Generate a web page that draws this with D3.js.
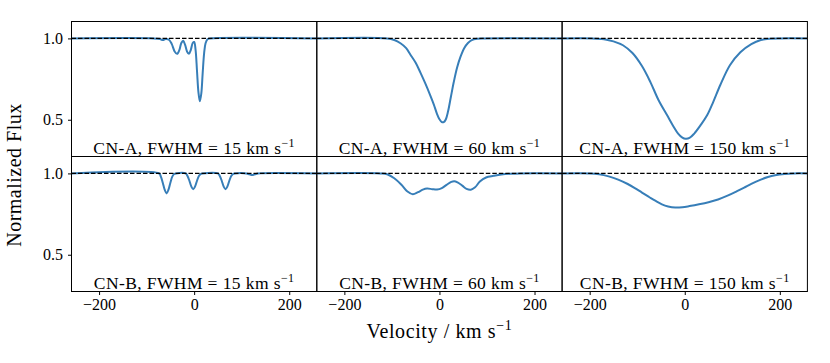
<!DOCTYPE html>
<html>
<head>
<meta charset="utf-8">
<script src="https://cdn.jsdelivr.net/npm/d3@7"></script>
<style>
  body { margin: 0; background: #fff; }
  text { font-family: "Liberation Serif", "DejaVu Serif", serif; fill: #000; }
</style>
</head>
<body>
<svg id="chart" width="830" height="363"></svg>
<script>
// [velocity km/s, normalized flux]
var cnA15 = [[-258,1],[-85,1],[-72,0.996],[-66,0.99],[-60,0.996],[-53,0.992],[-47,0.965],[-41,0.92],[-36,0.905],[-31,0.93],[-27,0.972],[-23,0.985],[-19,0.96],[-15,0.92],[-11,0.905],[-7,0.93],[-3,0.972],[0,0.978],[3,0.93],[6,0.8],[9,0.67],[12,0.613],[15,0.66],[18,0.79],[21,0.91],[24,0.97],[28,0.995],[33,1],[258,1]];
var cnA60 = [[-258,1],[-110,1],[-95,0.99],[-82,0.97],[-70,0.94],[-61,0.9],[-50,0.85],[-40,0.79],[-30,0.725],[-20,0.655],[-12,0.595],[-5,0.535],[0,0.503],[5,0.486],[9,0.485],[13,0.5],[18,0.55],[24,0.64],[30,0.73],[37,0.82],[44,0.885],[52,0.94],[60,0.972],[68,0.99],[80,0.998],[95,1],[258,1]];
var cnA150 = [[-258,1],[-195,1],[-170,0.995],[-150,0.982],[-130,0.958],[-110,0.91],[-90,0.83],[-72,0.73],[-55,0.62],[-37,0.527],[-25,0.465],[-14,0.415],[-5,0.39],[2,0.383],[10,0.388],[20,0.415],[33,0.465],[47,0.527],[60,0.61],[75,0.715],[95,0.835],[117,0.915],[140,0.965],[160,0.99],[180,0.998],[200,1],[258,1]];
var cnB15 = [[-258,1],[-74,1],[-70,0.98],[-66,0.943],[-62,0.9],[-58,0.877],[-54,0.9],[-50,0.943],[-46,0.98],[-42,0.996],[-38,1],[-18,1],[-14,0.984],[-10,0.955],[-6,0.92],[-2,0.903],[2,0.92],[6,0.955],[10,0.984],[14,0.997],[18,1],[50,1],[54,0.984],[58,0.955],[62,0.92],[66,0.903],[70,0.92],[74,0.955],[78,0.984],[82,0.997],[86,1],[110,1],[116,0.995],[122,0.99],[128,0.995],[134,1],[258,1]];
var cnB60 = [[-258,1],[-125,1],[-110,0.995],[-95,0.97],[-80,0.93],[-68,0.89],[-56,0.872],[-45,0.885],[-35,0.9],[-26,0.907],[-15,0.903],[-5,0.901],[5,0.91],[15,0.93],[25,0.948],[31,0.952],[38,0.945],[48,0.925],[57,0.905],[66,0.9],[75,0.915],[85,0.95],[98,0.975],[114,0.985],[130,0.993],[150,0.998],[170,1],[258,1]];
var cnB150 = [[-258,1],[-200,1],[-180,0.995],[-160,0.982],[-140,0.962],[-120,0.935],[-105,0.91],[-90,0.882],[-75,0.855],[-62,0.832],[-48,0.81],[-35,0.797],[-20,0.79],[-5,0.792],[10,0.799],[30,0.81],[50,0.823],[70,0.84],[90,0.863],[110,0.891],[125,0.913],[140,0.936],[160,0.962],[175,0.978],[190,0.989],[210,0.997],[230,1],[258,1]];

var models = ["CN-A", "CN-B"];
var fwhms = [15, 60, 150];
var series = [[cnA15, cnA60, cnA150], [cnB15, cnB60, cnB150]];
var xTicks = [-200, 0, 200];
var yTicks = [0.5, 1.0];

var svg = d3.select("#chart");
var mLeft = 71.5, mTop = 21.5, pw = 245.3, ph = 135;

var x = d3.scaleLinear().domain([-258, 258]).range([0, pw]);
var y = d3.scaleLinear().domain([0.274, 1.104]).range([ph, 0]);

var line = d3.line()
    .x(d => x(d[0]))
    .y(d => y(d[1]))
    .curve(d3.curveCatmullRom.alpha(0.5));

svg.append("defs").append("clipPath").attr("id", "clip")
  .append("rect").attr("width", pw).attr("height", ph);

models.forEach(function(m, r) {
  fwhms.forEach(function(fw, c) {
    var g = svg.append("g")
        .attr("transform", "translate(" + (mLeft + c*pw) + "," + (mTop + r*ph) + ")");

    var plot = g.append("g").attr("clip-path", "url(#clip)");
    plot.append("path")
        .datum(series[r][c])
        .attr("d", line)
        .attr("fill", "none")
        .attr("stroke", "#377eb8")
        .attr("stroke-width", 2);

    plot.append("line")
        .attr("x1", 0).attr("x2", pw)
        .attr("y1", y(1)).attr("y2", y(1))
        .attr("stroke", "#000")
        .attr("stroke-width", 1.1)
        .attr("stroke-dasharray", "4.5,2");

    var t = g.append("text")
        .attr("x", pw/2).attr("y", ph - 3)
        .attr("text-anchor", "middle")
        .style("font-size", "17.5px")
        .style("letter-spacing", "0.4px");
    t.append("tspan").text(m + ", FWHM = " + fw + " km s");
    t.append("tspan").attr("dy", -7).style("font-size", "12px").text("−1");

    if (r == 1) {
      var xa = g.append("g").attr("transform", "translate(0," + ph + ")")
          .call(d3.axisBottom(x).tickValues(xTicks).tickSize(3.5).tickPadding(4)
                .tickFormat(d => d < 0 ? "−" + Math.abs(d) : d));
      xa.select(".domain").remove();
      xa.selectAll("text").style("font-size", "16px");
    }
    if (c == 0) {
      var ya = g.append("g")
          .call(d3.axisLeft(y).tickValues(yTicks).tickSize(3.5).tickPadding(5)
                .tickFormat(d3.format(".1f")));
      ya.select(".domain").remove();
      ya.selectAll("text").style("font-size", "16px");
    }

    g.append("rect")
        .attr("width", pw).attr("height", ph)
        .attr("fill", "none").attr("stroke", "#000").attr("stroke-width", 1);
  });
});

svg.append("text")
    .attr("transform", "translate(21,175) rotate(-90)")
    .attr("text-anchor", "middle")
    .style("font-size", "20px")
    .style("letter-spacing", "0.5px")
    .text("Normalized Flux");

var xl = svg.append("text")
    .attr("x", mLeft + 1.5*pw).attr("y", 338)
    .attr("text-anchor", "middle")
    .style("font-size", "20px")
    .style("letter-spacing", "0.6px");
xl.append("tspan").text("Velocity / km s");
xl.append("tspan").attr("dy", -8).style("font-size", "14px").text("−1");
</script>
</body>
</html>
